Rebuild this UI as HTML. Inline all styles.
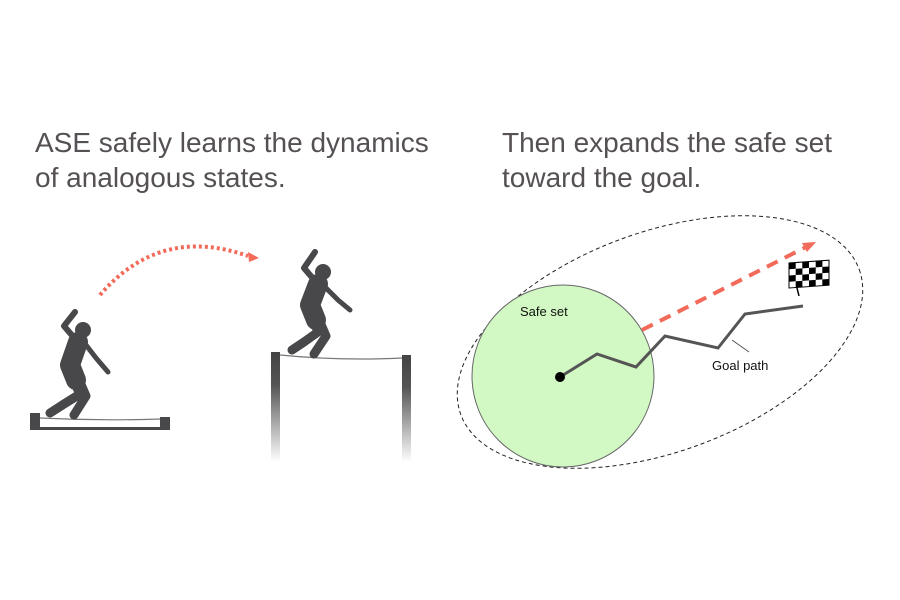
<!DOCTYPE html>
<html><head><style>
body{margin:0;background:#fff;}
svg{display:block}
text{font-family:"Liberation Sans",Arial,sans-serif}
</style></head><body>
<svg width="900" height="600" viewBox="0 0 900 600" xmlns="http://www.w3.org/2000/svg">
<defs>
<linearGradient id="post" x1="0" y1="0" x2="0" y2="1">
<stop offset="0" stop-color="#444"/><stop offset="0.3" stop-color="#555"/><stop offset="1" stop-color="#fff"/>
</linearGradient>
</defs>
<g fill="#545054" font-size="28">
<text x="35" y="152">ASE safely learns the dynamics</text>
<text x="35" y="187">of analogous states.</text>
<text x="502" y="152">Then expands the safe set</text>
<text x="502" y="187">toward the goal.</text>
</g>

<rect x="30" y="413" width="10" height="17" fill="#48474a"/>
<rect x="160" y="417" width="10" height="13" fill="#48474a"/>
<rect x="30" y="427" width="140" height="3" fill="#48474a"/>
<path d="M40 418 Q100 421 160 419" stroke="#777" stroke-width="1.2" fill="none"/>
<g stroke="#48474a" stroke-linecap="round" stroke-linejoin="round" fill="none">
<circle cx="83" cy="330" r="8" fill="#48474a" stroke="none"/>
<path d="M78 342 L70 365 L76 380" stroke-width="20"/>
<path d="M76 340 L64 326 L75 312" stroke-width="6"/>
<path d="M86 345 L96 358 L108 372" stroke-width="5"/>
<path d="M74 382 L80 394 L64 404 L50 413" stroke-width="9"/>
<path d="M80 382 L86 396 L74 415" stroke-width="9"/>
</g>
<path d="M100 295 Q160 225 248 256" stroke="#f26a5a" stroke-width="4" stroke-dasharray="3 3" fill="none"/>
<path d="M259 258 l-11 -6 l1 10 z" fill="#f26a5a"/>

<rect x="271" y="352" width="9" height="110" fill="url(#post)"/>
<rect x="402" y="355" width="9" height="107" fill="url(#post)"/>
<path d="M280 355 Q340 361 402 358" stroke="#777" stroke-width="1.2" fill="none"/>
<g stroke="#48474a" stroke-linecap="round" stroke-linejoin="round" fill="none">
<circle cx="323" cy="272" r="8" fill="#48474a" stroke="none"/>
<path d="M318 284 L310 305 L316 320" stroke-width="20"/>
<path d="M316 282 L304 268 L315 252" stroke-width="6"/>
<path d="M326 288 L338 300 L350 310" stroke-width="5"/>
<path d="M314 322 L318 332 L304 342 L292 350" stroke-width="9"/>
<path d="M320 322 L326 336 L314 354" stroke-width="9"/>
</g>

<ellipse cx="660" cy="342" rx="212" ry="110" transform="rotate(-20 660 342)" fill="none" stroke="#222" stroke-width="1" stroke-dasharray="4 3"/>
<circle cx="563" cy="376" r="91" fill="#d2f8c4" stroke="#666" stroke-width="1"/>
<text x="520" y="316" font-size="13" fill="#111">Safe set</text>
<path d="M642 330 L808 246" stroke="#f26a5a" stroke-width="4" stroke-dasharray="12 8" fill="none"/>
<path d="M816 242 l-14 1 l5 9 z" fill="#f26a5a"/>
<polyline points="560,377 597,354 636,367 665,336 718,348 745,314 803,306" fill="none" stroke="#555" stroke-width="3"/>
<circle cx="560" cy="377" r="5" fill="#000"/>
<line x1="732" y1="340" x2="749" y2="352" stroke="#555" stroke-width="1"/>
<text x="712" y="370" font-size="13" fill="#111">Goal path</text>
<line x1="799" y1="296" x2="791" y2="264" stroke="#000" stroke-width="1.5"/>
<g transform="translate(789 263) skewY(-4)">
<rect x="0" y="0" width="40" height="25" fill="#fff" stroke="#000" stroke-width="1"/>
<g fill="#000">
<rect x="0" y="0" width="6.7" height="6.25"/><rect x="13.3" y="0" width="6.7" height="6.25"/><rect x="26.7" y="0" width="6.7" height="6.25"/>
<rect x="6.7" y="6.25" width="6.7" height="6.25"/><rect x="20" y="6.25" width="6.7" height="6.25"/><rect x="33.3" y="6.25" width="6.7" height="6.25"/>
<rect x="0" y="12.5" width="6.7" height="6.25"/><rect x="13.3" y="12.5" width="6.7" height="6.25"/><rect x="26.7" y="12.5" width="6.7" height="6.25"/>
<rect x="6.7" y="18.75" width="6.7" height="6.25"/><rect x="20" y="18.75" width="6.7" height="6.25"/><rect x="33.3" y="18.75" width="6.7" height="6.25"/>
</g>
</g>
</svg>
</body></html>
